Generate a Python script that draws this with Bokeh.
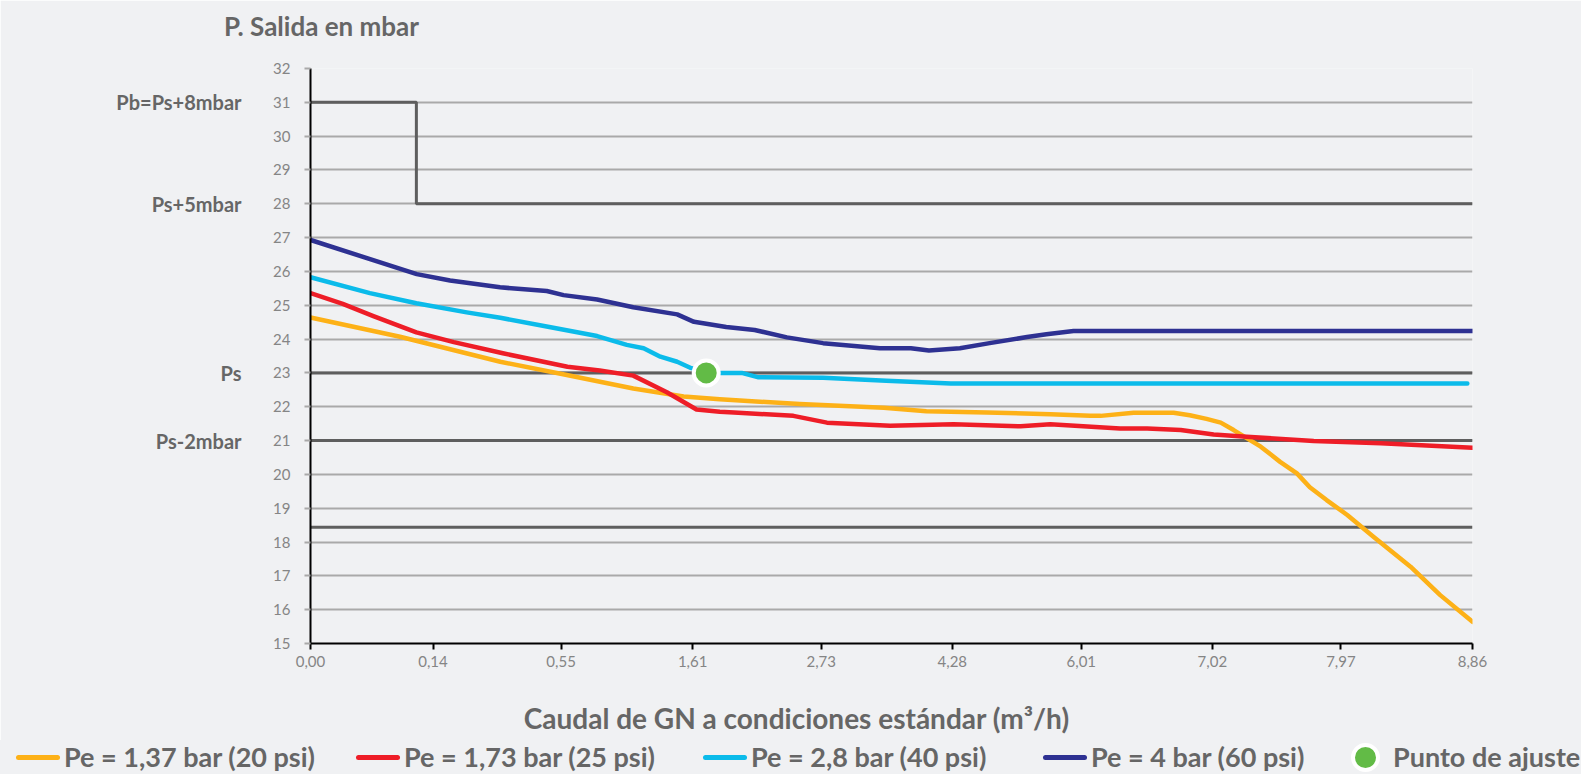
from bokeh.plotting import figure
from bokeh.models import Range1d, FixedTicker, LinearAxis, Div
from bokeh.layouts import column
from bokeh.embed import file_html
from bokeh.resources import INLINE

# ---------------- data ----------------
x_tick_pos = [0, 9.49, 19.41, 29.6, 39.56, 49.71, 59.7, 69.85, 79.81, 90]
x_tick_labels = ["0,00", "0,14", "0,55", "1,61", "2,73", "4,28", "6,01", "7,02", "7,97", "8,86"]
y_ticks = list(range(15, 33))

ref_label_vals = [31, 28, 23, 21]
ref_label_text = ["Pb=Ps+8mbar", "Ps+5mbar", "Ps", "Ps-2mbar"]

step_x = [0, 8.2, 8.2, 90]
step_y = [31, 31, 28, 28]
limit_levels = [23, 21, 18.44]

s20_x = [0, 6.93, 14.7, 19.85, 25.0, 28.9, 31.7, 37.9, 44.4, 47.7, 52.4, 57.3, 60.4, 61.2, 63.75,
         66.85, 68.1, 69.4, 70.5, 71.5, 73.6, 75.1, 76.4, 77.4, 78.7, 80.3, 82.35, 85.2, 87.5, 90]
s20_y = [24.64, 24.07, 23.33, 22.94, 22.54, 22.30, 22.22, 22.08, 21.97, 21.87, 21.83, 21.78, 21.73, 21.73, 21.82,
         21.82, 21.75, 21.64, 21.53, 21.31, 20.82, 20.37, 20.03, 19.62, 19.24, 18.80, 18.15, 17.27, 16.43, 15.64]

s25_x = [0, 2.5, 4.87, 8.2, 11.1, 14.9, 19.9, 22.4, 25.0, 27.6, 29.9, 31.7, 32.8, 37.4, 40.0, 44.9,
         49.8, 55.0, 57.3, 62.7, 64.8, 67.4, 69.95, 72.5, 77.7, 82.9, 90]
s25_y = [25.36, 25.04, 24.68, 24.20, 23.91, 23.58, 23.18, 23.07, 22.92, 22.43, 21.92, 21.85, 21.83, 21.73, 21.53, 21.44,
         21.48, 21.42, 21.48, 21.36, 21.36, 21.31, 21.18, 21.11, 20.99, 20.92, 20.79]

s40_x = [0, 4.6, 8.2, 12.1, 14.7, 18.6, 22.2, 24.5, 25.8, 27.1, 28.4, 29.5, 30.65, 31.7, 33.4, 34.7,
         39.7, 44.6, 49.6, 89.6]
s40_y = [25.83, 25.36, 25.06, 24.79, 24.63, 24.35, 24.09, 23.83, 23.73, 23.48, 23.33, 23.14, 23.04, 23.0, 23.0, 22.87,
         22.86, 22.77, 22.69, 22.69]

s60_x = [0, 8.23, 10.81, 14.68, 18.3, 19.6, 22.2, 25.0, 28.4, 29.7, 32.2, 34.4, 36.9, 39.7, 44.1, 46.5,
         47.9, 50.3, 52.6, 55.5, 57.0, 59.1, 62.7, 90]
s60_y = [26.93, 25.92, 25.73, 25.53, 25.42, 25.30, 25.17, 24.94, 24.73, 24.51, 24.36, 24.27, 24.05, 23.88, 23.73, 23.73,
         23.66, 23.73, 23.88, 24.06, 24.14, 24.24, 24.24, 24.24]

set_x = [30.65]
set_y = [23.0]

series_labels = ["Pe = 1,37 bar (20 psi)", "Pe = 1,73 bar (25 psi)", "Pe = 2,8 bar (40 psi)",
                 "Pe = 4 bar (60 psi)", "Punto de ajuste"]
title_text = "P. Salida en mbar"
xtitle_text = "Caudal de GN a condiciones estándar (m³/h)"

# ---------------- style ----------------
BG = "#f0f1f3"
TXT = "#666666"
FONT = "Lato"
COL = ["#fdb117", "#ee1d27", "#0bbbea", "#2e3192"]
GREEN = "#62bb46"
TITLE_POS = 0.85     # x position (axis units) where the chart title is centred
XTITLE_POS = 37.66   # x position (axis units) where the x-axis title is centred
KEY_LEFT = [16, 356, 703, 1043]   # key swatch left edges (px)
PT_KEY_CENTER = 1365              # key circle centre (px)

p = figure(width=1581, height=740, x_range=Range1d(0, 90), y_range=Range1d(15, 32),
           output_backend="svg", toolbar_location=None,
           min_border_left=310, min_border_right=109, min_border_top=68, min_border_bottom=97,
           background_fill_color=BG, border_fill_color=BG, outline_line_color=None)

p.xgrid.visible = False
p.ygrid.ticker = FixedTicker(ticks=y_ticks)
p.ygrid.grid_line_color = "#a9a9a9"
p.ygrid.grid_line_width = 2

p.yaxis.ticker = FixedTicker(ticks=y_ticks)
p.yaxis.axis_line_color = "black"
p.yaxis.axis_line_width = 2
p.yaxis.major_tick_line_color = "#a9a9a9"
p.yaxis.major_tick_line_width = 2
p.yaxis.major_tick_out = 6
p.yaxis.major_tick_in = 0
p.yaxis.minor_tick_line_color = None
p.yaxis.major_label_standoff = 14
p.yaxis.major_label_text_font = FONT
p.yaxis.major_label_text_font_size = "15px"
p.yaxis.major_label_text_color = "#858585"

p.xaxis.ticker = FixedTicker(ticks=x_tick_pos)
p.xaxis.major_label_overrides = {t: l for t, l in zip(x_tick_pos, x_tick_labels)}
p.xaxis.axis_line_color = "black"
p.xaxis.axis_line_width = 2
p.xaxis.major_tick_line_color = "black"
p.xaxis.major_tick_line_width = 2
p.xaxis.major_tick_out = 6
p.xaxis.major_tick_in = 0
p.xaxis.minor_tick_line_color = None
p.xaxis.major_label_standoff = 6
p.xaxis.major_label_text_font = FONT
p.xaxis.major_label_text_font_size = "15px"
p.xaxis.major_label_text_color = "#858585"


def text_axis(pos, text, size, standoff):
    return LinearAxis(ticker=FixedTicker(ticks=list(pos)),
                      major_label_overrides={v: t for v, t in zip(pos, text)},
                      axis_line_color=None, major_tick_line_color=None, minor_tick_line_color=None,
                      major_tick_out=0, major_tick_in=0,
                      major_label_standoff=standoff, major_label_text_font=FONT,
                      major_label_text_font_style="bold", major_label_text_font_size=size,
                      major_label_text_color=TXT)


p.add_layout(text_axis(ref_label_vals, ref_label_text, "20px", 29), "left")
p.add_layout(text_axis([TITLE_POS], [title_text], "26px", 27), "above")
p.add_layout(text_axis([XTITLE_POS], [xtitle_text], "28px", 31), "below")

# reference lines
p.line(step_x, step_y, line_color="#5e5e5e", line_width=3)
for lv in limit_levels:
    p.line([0, 90], [lv, lv], line_color="#5e5e5e", line_width=3)

# series
for xs, ys, c in zip([s20_x, s25_x, s40_x, s60_x], [s20_y, s25_y, s40_y, s60_y], COL):
    p.line(xs, ys, line_color=c, line_width=4.5, line_cap="round", line_join="round")

p.scatter(set_x, set_y, size=25, fill_color=GREEN, line_color="white", line_width=4)

# ---------------- key (HTML strip below the chart) ----------------
parts = []
lab_style = ("position:absolute;top:0;height:34px;line-height:34px;white-space:nowrap;"
             "font-family:Lato;font-weight:bold;font-size:27px;color:%s;" % TXT)
for left, c, lab in zip(KEY_LEFT, COL, series_labels[:4]):
    parts.append('<span style="position:absolute;left:%dpx;top:15px;width:44px;height:5px;'
                 'border-radius:3px;background:%s;"></span>' % (left, c))
    parts.append('<span style="%sleft:%dpx;">%s</span>' % (lab_style, left + 48, lab))
parts.append('<span style="position:absolute;box-sizing:border-box;left:%dpx;top:3px;width:29px;height:29px;'
             'border-radius:50%%;background:%s;border:4.5px solid white;"></span>' % (PT_KEY_CENTER - 14, GREEN))
parts.append('<span style="%sleft:%dpx;">%s</span>' % (lab_style, PT_KEY_CENTER + 28, series_labels[4]))

key_html = ('<div style="position:relative;width:1581px;height:34px;background:%s;overflow:hidden;">%s</div>'
            % (BG, "".join(parts)))
key = Div(text=key_html, width=1581, height=34, margin=0, styles={"background-color": BG})

layout = column(p, key, spacing=0)
html = file_html(layout, INLINE)
html = html.replace("<body>", '<body style="background-color:#f0f1f3;">', 1)
open("out.html", "w").write(html)
